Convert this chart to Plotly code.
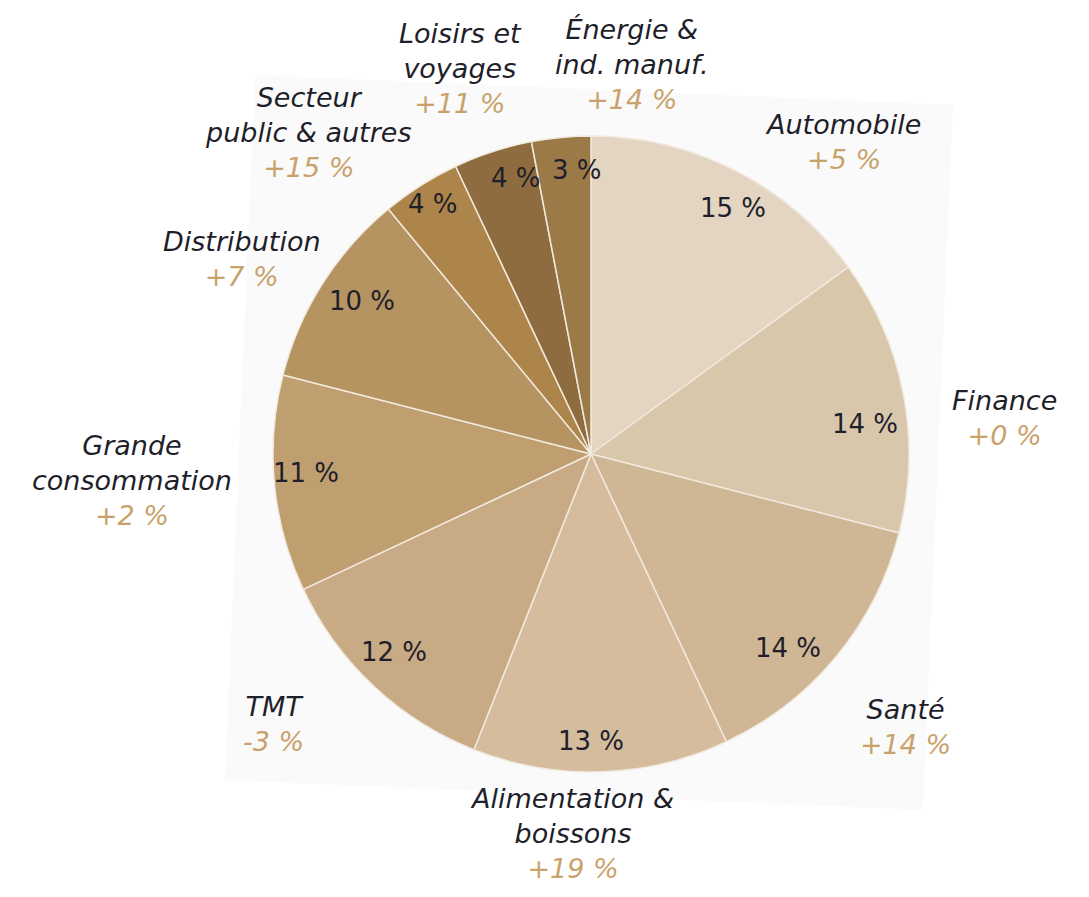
import plotly.graph_objects as go

# sector shares (%) and year-on-year change
sectors = ["Automobile", "Finance", "Santé", "Alimentation &<br>boissons", "TMT",
           "Grande<br>consommation", "Distribution", "Secteur<br>public & autres",
           "Loisirs et<br>voyages", "Énergie &<br>ind. manuf."]
shares = [15, 14, 14, 13, 12, 11, 10, 4, 4, 3]
changes = ["+5 %", "+0 %", "+14 %", "+19 %", "-3 %", "+2 %", "+7 %", "+15 %", "+11 %", "+14 %"]
colors = ["#e3d5c1", "#d9c7ab", "#cfb694", "#d4bc9c", "#c8ab85",
          "#bf9e70", "#b69462", "#ad8449", "#8e6c3f", "#9c7a47"]

OFF = 8  # page body margin
W, H = 1089 - 2 * OFF, 897 - 2 * OFF
dark = "#1f1f2b"
gold = "#c9a26b"
fnt = "DejaVu Sans"


def px(x, y):
    # window pixel -> paper coords
    return (x - OFF) / W, 1 - (y - OFF) / H


# label placement (window pixels)
inside_pos = [(733, 208), (865, 424), (788, 648), (591, 741), (394, 652),
              (306, 473), (362, 301), (433, 204), (516, 178), (577, 170)]
outside_pos = [(843, 142), (1004, 418), (905, 727), (572, 833), (273, 724),
               (132, 480), (242, 259), (308, 132), (460, 68), (632, 64)]

x0, y0 = px(273, 772)
x1, y1 = px(909, 136)

fig = go.Figure()

fig.add_trace(go.Pie(
    labels=sectors, values=shares, sort=False, direction="clockwise", rotation=0,
    marker=dict(colors=colors, line=dict(color="#f1e9de", width=1.5)),
    textinfo="none", domain=dict(x=[x0, x1], y=[y0, y1]),
    showlegend=False, hoverinfo="skip",
))

for i in range(len(shares)):
    ax, ay = px(*inside_pos[i])
    fig.add_annotation(x=ax, y=ay, xref="paper", yref="paper",
                       xanchor="center", yanchor="middle",
                       text=f"{shares[i]} %", showarrow=False,
                       font=dict(family=fnt, size=26, color=dark))
    ax, ay = px(*outside_pos[i])
    fig.add_annotation(x=ax, y=ay, xref="paper", yref="paper",
                       xanchor="center", yanchor="middle",
                       text=f"<i>{sectors[i]}</i><br><i><span style='color:{gold}'>{changes[i]}</span></i>",
                       showarrow=False, align="center",
                       font=dict(family=fnt, size=27, color=dark))

# faint tilted square behind the pie
corners = [(255, 75), (953, 105), (923, 810), (225, 780)]
path = "M " + " L ".join("{:.4f},{:.4f}".format(*px(x, y)) for x, y in corners) + " Z"
fig.add_shape(type="path", path=path, xref="paper", yref="paper",
              fillcolor="#fafafa", line=dict(width=0), layer="below")

fig.update_layout(
    width=W, height=H, margin=dict(l=0, r=0, t=0, b=0),
    paper_bgcolor="white", plot_bgcolor="white",
    font=dict(family=fnt, color=dark),
)

fig.write_html("out.html")
